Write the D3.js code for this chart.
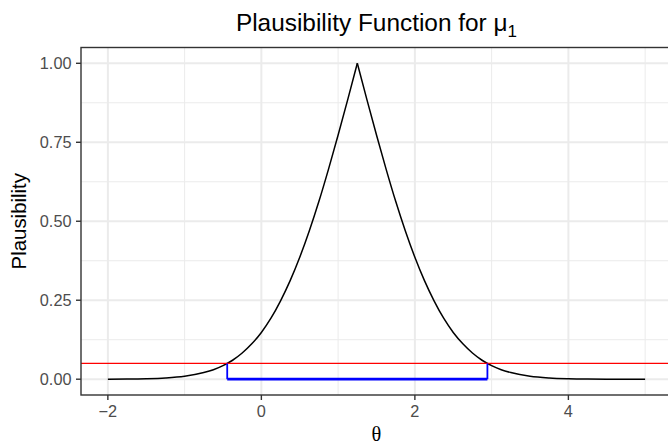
<!DOCTYPE html>
<html>
<head>
<meta charset="utf-8">
<script src="https://cdn.jsdelivr.net/npm/d3@7/dist/d3.min.js"></script>
<style>
body { margin: 0; background: #fff; }
svg { display: block; font-family: "Liberation Sans", Arial, Helvetica, sans-serif; }
</style>
</head>
<body>
<div id="chart"></div>
<script>
// plausibility curve, values
var thetaVals = [-2, -1.75, -1.5, -1.25, -1, -0.75, -0.625, -0.5, -0.375, -0.25, -0.125,
	0, 0.125, 0.25, 0.375, 0.5, 0.625, 0.75, 0.875, 1, 1.125, 1.25,
	1.375, 1.5, 1.625, 1.75, 1.875, 2, 2.125, 2.25, 2.375, 2.5, 2.625, 2.75,
	2.875, 3, 3.125, 3.25, 3.5, 3.75, 4, 4.25, 4.5, 5];
var plausVals = [0.0002, 0.0005, 0.0015, 0.0039, 0.0093, 0.021, 0.030, 0.043, 0.060, 0.083, 0.112,
	0.148, 0.193, 0.248, 0.312, 0.386, 0.470, 0.563, 0.665, 0.773, 0.885, 1.0,
	0.885, 0.773, 0.665, 0.563, 0.470, 0.386, 0.312, 0.248, 0.193, 0.148, 0.112, 0.083,
	0.060, 0.043, 0.030, 0.021, 0.0093, 0.0039, 0.0015, 0.0005, 0.0002, 0.0];
var peakTheta = 1.25;

// cut-off level and the interval it gives
var alphaLevel = 0.05;
var intervalEnds = [-0.445, 2.945];

// ticks
var xBreaks = [-2, 0, 2, 4];
var xLabels = ["\u22122", "0", "2", "4"];
var xMinor = [-1, 1, 3, 5];
var yBreaks = [0, 0.25, 0.5, 0.75, 1];
var yLabels = ["0.00", "0.25", "0.50", "0.75", "1.00"];
var yMinor = [0.125, 0.375, 0.625, 0.875];

var width = 668;
var height = 444;
var panel = {left: 81, right: 672, top: 47.5, bottom: 395};

// ggplot style 5% expansion
var xExt = d3.extent(thetaVals);
var xPad = (xExt[1] - xExt[0]) * 0.05;
var x = d3.scaleLinear()
	.domain([xExt[0] - xPad, xExt[1] + xPad])
	.range([panel.left, panel.right]);

var y = d3.scaleLinear()
	.domain([-0.05, 1.05])
	.range([panel.bottom, panel.top]);

var svg = d3.select("#chart")
	.append("svg")
	.attr("width", width)
	.attr("height", height);

// panel background + grid
var grid = svg.append("g");

grid.selectAll(".xminor")
	.data(xMinor)
	.enter()
	.append("line")
	.attr("x1", d => x(d)).attr("x2", d => x(d))
	.attr("y1", panel.top).attr("y2", panel.bottom)
	.style("stroke", "#EBEBEB").style("stroke-width", 1);

grid.selectAll(".yminor")
	.data(yMinor)
	.enter()
	.append("line")
	.attr("x1", panel.left).attr("x2", panel.right)
	.attr("y1", d => y(d)).attr("y2", d => y(d))
	.style("stroke", "#EBEBEB").style("stroke-width", 1);

grid.selectAll(".xmajor")
	.data(xBreaks)
	.enter()
	.append("line")
	.attr("x1", d => x(d)).attr("x2", d => x(d))
	.attr("y1", panel.top).attr("y2", panel.bottom)
	.style("stroke", "#EBEBEB").style("stroke-width", 2);

grid.selectAll(".ymajor")
	.data(yBreaks)
	.enter()
	.append("line")
	.attr("x1", panel.left).attr("x2", panel.right)
	.attr("y1", d => y(d)).attr("y2", d => y(d))
	.style("stroke", "#EBEBEB").style("stroke-width", 2);

// curve, drawn as two halves so the peak stays sharp
var points = thetaVals.map((t, i) => [t, plausVals[i]]);
var line = d3.line()
	.x(d => x(d[0]))
	.y(d => y(d[1]))
	.curve(d3.curveMonotoneX);

[points.filter(d => d[0] <= peakTheta), points.filter(d => d[0] >= peakTheta)].forEach(half => {
	svg.append("path")
		.attr("d", line(half))
		.style("fill", "none")
		.style("stroke", "#000")
		.style("stroke-width", 1.5);
});

// alpha line
svg.append("line")
	.attr("x1", panel.left).attr("x2", panel.right)
	.attr("y1", y(alphaLevel)).attr("y2", y(alphaLevel))
	.style("stroke", "#FF0000")
	.style("stroke-width", 1.3);

// interval in blue
svg.selectAll(".ends")
	.data(intervalEnds)
	.enter()
	.append("line")
	.attr("x1", d => x(d)).attr("x2", d => x(d))
	.attr("y1", y(alphaLevel)).attr("y2", y(0))
	.style("stroke", "#0000FF")
	.style("stroke-width", 1.8);

svg.append("line")
	.attr("x1", x(intervalEnds[0])).attr("x2", x(intervalEnds[1]))
	.attr("y1", y(0)).attr("y2", y(0))
	.style("stroke", "#0000FF")
	.style("stroke-width", 2.8);

// panel border
svg.append("rect")
	.attr("x", panel.left).attr("y", panel.top)
	.attr("width", panel.right - panel.left)
	.attr("height", panel.bottom - panel.top)
	.style("fill", "none")
	.style("stroke", "#333333")
	.style("stroke-width", 1.4);

// y axis ticks + labels
svg.selectAll(".ytick")
	.data(yBreaks)
	.enter()
	.append("line")
	.attr("x1", panel.left - 5).attr("x2", panel.left)
	.attr("y1", d => y(d)).attr("y2", d => y(d))
	.style("stroke", "#333333").style("stroke-width", 1.4);

svg.selectAll(".ylab")
	.data(yBreaks)
	.enter()
	.append("text")
	.attr("x", panel.left - 9.5)
	.attr("y", d => y(d))
	.attr("dy", "0.36em")
	.attr("text-anchor", "end")
	.style("font-size", "16.3px")
	.style("fill", "#4D4D4D")
	.text((d, i) => yLabels[i]);

// x axis ticks + labels
svg.selectAll(".xtick")
	.data(xBreaks)
	.enter()
	.append("line")
	.attr("x1", d => x(d)).attr("x2", d => x(d))
	.attr("y1", panel.bottom).attr("y2", panel.bottom + 5)
	.style("stroke", "#333333").style("stroke-width", 1.4);

svg.selectAll(".xlab")
	.data(xBreaks)
	.enter()
	.append("text")
	.attr("x", d => x(d))
	.attr("y", panel.bottom + 22)
	.attr("text-anchor", "middle")
	.style("font-size", "16.3px")
	.style("fill", "#4D4D4D")
	.text((d, i) => xLabels[i]);

// axis titles
svg.append("text")
	.attr("x", (panel.left + panel.right) / 2)
	.attr("y", 441)
	.attr("text-anchor", "middle")
	.style("font-family", "'Liberation Serif', 'DejaVu Serif', serif")
	.style("font-size", "20.4px")
	.text("\u03B8");

svg.append("text")
	.attr("transform", "translate(26," + (panel.top + panel.bottom) / 2 + ") rotate(-90)")
	.attr("text-anchor", "middle")
	.style("font-size", "20.4px")
	.text("Plausibility");

// title
var title = svg.append("text")
	.attr("x", (panel.left + panel.right) / 2)
	.attr("y", 31)
	.attr("text-anchor", "middle")
	.style("font-size", "24.4px");
title.append("tspan").text("Plausibility Function for ");
title.append("tspan").text("\u03BC");
title.append("tspan")
	.attr("dy", 6)
	.style("font-size", "17px")
	.text("1");
</script>
</body>
</html>
